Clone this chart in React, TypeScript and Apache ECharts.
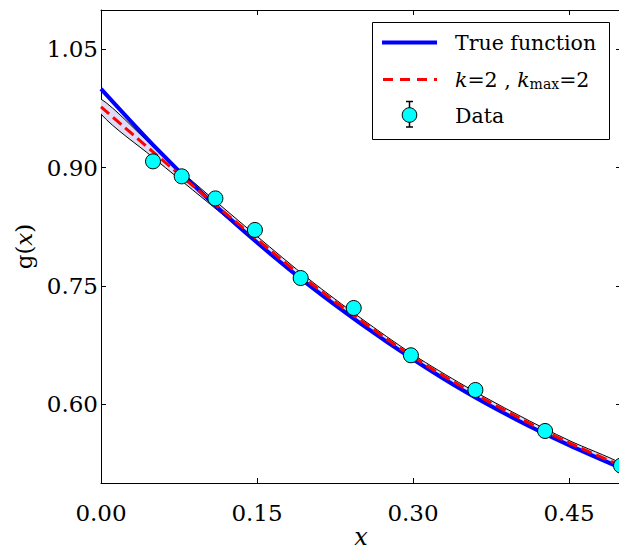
import React, { useEffect, useRef } from "react";
import * as echarts from "echarts";

const xTicks = [0, 0.15, 0.3, 0.45];
const yTicks = [0.6, 0.75, 0.9, 1.05];

const dataX = [0.05, 0.0776, 0.11, 0.148, 0.192, 0.243, 0.298, 0.36, 0.427, 0.5];
const dataY = [0.908, 0.889, 0.861, 0.821, 0.76, 0.722, 0.662, 0.618, 0.566, 0.522];

const curveX = [0, 0.05, 0.1, 0.15, 0.2, 0.25, 0.3, 0.35, 0.4, 0.45, 0.5];
const trueY = [1.0, 0.929, 0.864, 0.805, 0.751, 0.702, 0.657, 0.616, 0.58, 0.548, 0.519];
const fitY = [0.977, 0.92, 0.864, 0.809, 0.755, 0.706, 0.66, 0.62, 0.584, 0.551, 0.522];
const bandLower = [0.968, 0.913, 0.859, 0.805, 0.7515, 0.703, 0.657, 0.617, 0.581, 0.548, 0.519];
const bandUpper = [0.987, 0.927, 0.869, 0.813, 0.7585, 0.709, 0.663, 0.623, 0.587, 0.554, 0.525];

const FONT = "DejaVu Serif";

export default function App() {
  const ref = useRef<HTMLDivElement>(null);
  useEffect(() => {
    if (!ref.current) return;
    const chart = echarts.init(ref.current, undefined, { renderer: "svg" });
    const axisCommon = {
      type: "value",
      axisLine: { show: true, onZero: false, lineStyle: { color: "#000", width: 1 } },
      splitLine: { show: false },
    };
    const option: any = {
      animation: false,
      backgroundColor: "#fff",
      textStyle: { fontFamily: FONT },
      grid: { left: 101, top: 10, width: 520, height: 473, outerBoundsMode: "none", containLabel: false },
      xAxis: [
        {
          ...axisCommon,
          position: "bottom",
          min: 0,
          max: 0.5,
          name: "x",
          nameLocation: "middle",
          nameGap: 43,
          nameMoveOverlap: false,
          nameTextStyle: { fontFamily: FONT, fontSize: 24, lineHeight: 22, fontStyle: "italic", color: "#000" },
          axisTick: { show: true, inside: true, length: 5, customValues: xTicks, lineStyle: { color: "#000" } },
          axisLabel: {
            show: true,
            customValues: xTicks,
            margin: 18,
            fontFamily: FONT,
            fontSize: 23,
            color: "#000",
            formatter: (v: number) => v.toFixed(2),
          },
        },
        {
          ...axisCommon,
          position: "top",
          min: 0,
          max: 0.5,
          axisTick: { show: true, inside: true, length: 5, customValues: xTicks, lineStyle: { color: "#000" } },
          axisLabel: { show: false },
        },
      ],
      yAxis: [
        {
          ...axisCommon,
          position: "left",
          min: 0.5,
          max: 1.1,
          name: "{a|g(}{b|x}{a|)}",
          nameLocation: "middle",
          nameRotate: 90,
          nameGap: 66,
          nameTextStyle: {
            rich: {
              a: { fontFamily: FONT, fontSize: 23, color: "#000" },
              b: { fontFamily: FONT, fontSize: 23, fontStyle: "italic", color: "#000" },
            },
          },
          axisTick: { show: true, inside: true, length: 5, customValues: yTicks, lineStyle: { color: "#000" } },
          axisLabel: {
            show: true,
            customValues: yTicks,
            margin: 3,
            fontFamily: FONT,
            fontSize: 23,
            color: "#000",
            formatter: (v: number) => v.toFixed(2),
          },
        },
        {
          ...axisCommon,
          position: "right",
          min: 0.5,
          max: 1.1,
          axisTick: { show: true, inside: true, length: 5, customValues: yTicks, lineStyle: { color: "#000" } },
          axisLabel: { show: false },
        },
      ],
      series: [
        {
          type: "custom",
          name: "band",
          z: 1,
          clip: true,
          data: [[curveX[0], bandLower[0]]],
          renderItem: (_params: any, api: any) => {
            const pts: number[][] = [];
            for (let i = 0; i < curveX.length; i++) pts.push(api.coord([curveX[i], bandUpper[i]]));
            for (let i = curveX.length - 1; i >= 0; i--) pts.push(api.coord([curveX[i], bandLower[i]]));
            return {
              type: "polygon",
              shape: { points: pts, smooth: 0.3 },
              style: { fill: "#dcdcf6", stroke: "#000", lineWidth: 1 },
            };
          },
        },
        {
          type: "line",
          name: "True function",
          z: 2,
          smooth: 0.3,
          showSymbol: false,
          data: curveX.map((x, i) => [x, trueY[i]]),
          lineStyle: { color: "#0000ff", width: 4 },
        },
        {
          type: "line",
          name: "fit",
          z: 3,
          smooth: 0.3,
          showSymbol: false,
          data: curveX.map((x, i) => [x, fitY[i]]),
          lineStyle: { color: "#ff0000", width: 3, type: [11, 5] },
        },
        {
          type: "scatter",
          name: "Data",
          z: 4,
          symbol: "circle",
          symbolSize: 15,
          clip: false,
          data: dataX.map((x, i) => [x, dataY[i]]),
          itemStyle: { color: "#00ffff", borderColor: "#000", borderWidth: 1, opacity: 1 },
        },
      ],
      graphic: [
        {
          type: "group",
          z: 100,
          children: [
            {
              type: "rect",
              shape: { x: 372.5, y: 22.5, width: 237, height: 117 },
              style: { fill: "#fff", stroke: "#000", lineWidth: 1 },
            },
            {
              type: "line",
              shape: { x1: 382, y1: 42.5, x2: 437, y2: 42.5 },
              style: { stroke: "#0000ff", lineWidth: 4 },
            },
            {
              type: "line",
              shape: { x1: 383, y1: 79.5, x2: 437, y2: 79.5 },
              style: { stroke: "#ff0000", lineWidth: 3, lineDash: [10, 7] },
            },
            {
              type: "line",
              shape: { x1: 409.5, y1: 101.5, x2: 409.5, y2: 127 },
              style: { stroke: "#000", lineWidth: 1.5 },
            },
            {
              type: "line",
              shape: { x1: 406, y1: 101.5, x2: 413, y2: 101.5 },
              style: { stroke: "#000", lineWidth: 1.5 },
            },
            {
              type: "line",
              shape: { x1: 406, y1: 127, x2: 413, y2: 127 },
              style: { stroke: "#000", lineWidth: 1.5 },
            },
            {
              type: "circle",
              shape: { cx: 409.5, cy: 115, r: 7.3 },
              style: { fill: "#00ffff", stroke: "#000", lineWidth: 1 },
            },
            {
              type: "text",
              x: 455,
              y: 43,
              style: {
                text: "True function",
                fontFamily: FONT,
                fontSize: 20.5,
                fill: "#000",
                verticalAlign: "middle",
              },
            },
            {
              type: "text",
              x: 455,
              y: 80,
              style: {
                text: "{i|k}{n|=2 , }{i|k}{s|max}{n|=2}",
                verticalAlign: "middle",
                rich: {
                  i: { fontFamily: FONT, fontSize: 20.5, fontStyle: "italic", fill: "#000" },
                  n: { fontFamily: FONT, fontSize: 20.5, fill: "#000" },
                  s: { fontFamily: FONT, fontSize: 14, fill: "#000", verticalAlign: "bottom", padding: [8, 0, 0, 0] },
                },
              },
            },
            {
              type: "text",
              x: 455,
              y: 116,
              style: {
                text: "Data",
                fontFamily: FONT,
                fontSize: 20.5,
                fill: "#000",
                verticalAlign: "middle",
              },
            },
          ],
        },
      ],
    };
    chart.setOption(option);
    return () => chart.dispose();
  }, []);
  return (
    <div
      ref={ref}
      style={{ position: "absolute", left: 0, top: 0, width: 619, height: 552, background: "#fff" }}
    />
  );
}
